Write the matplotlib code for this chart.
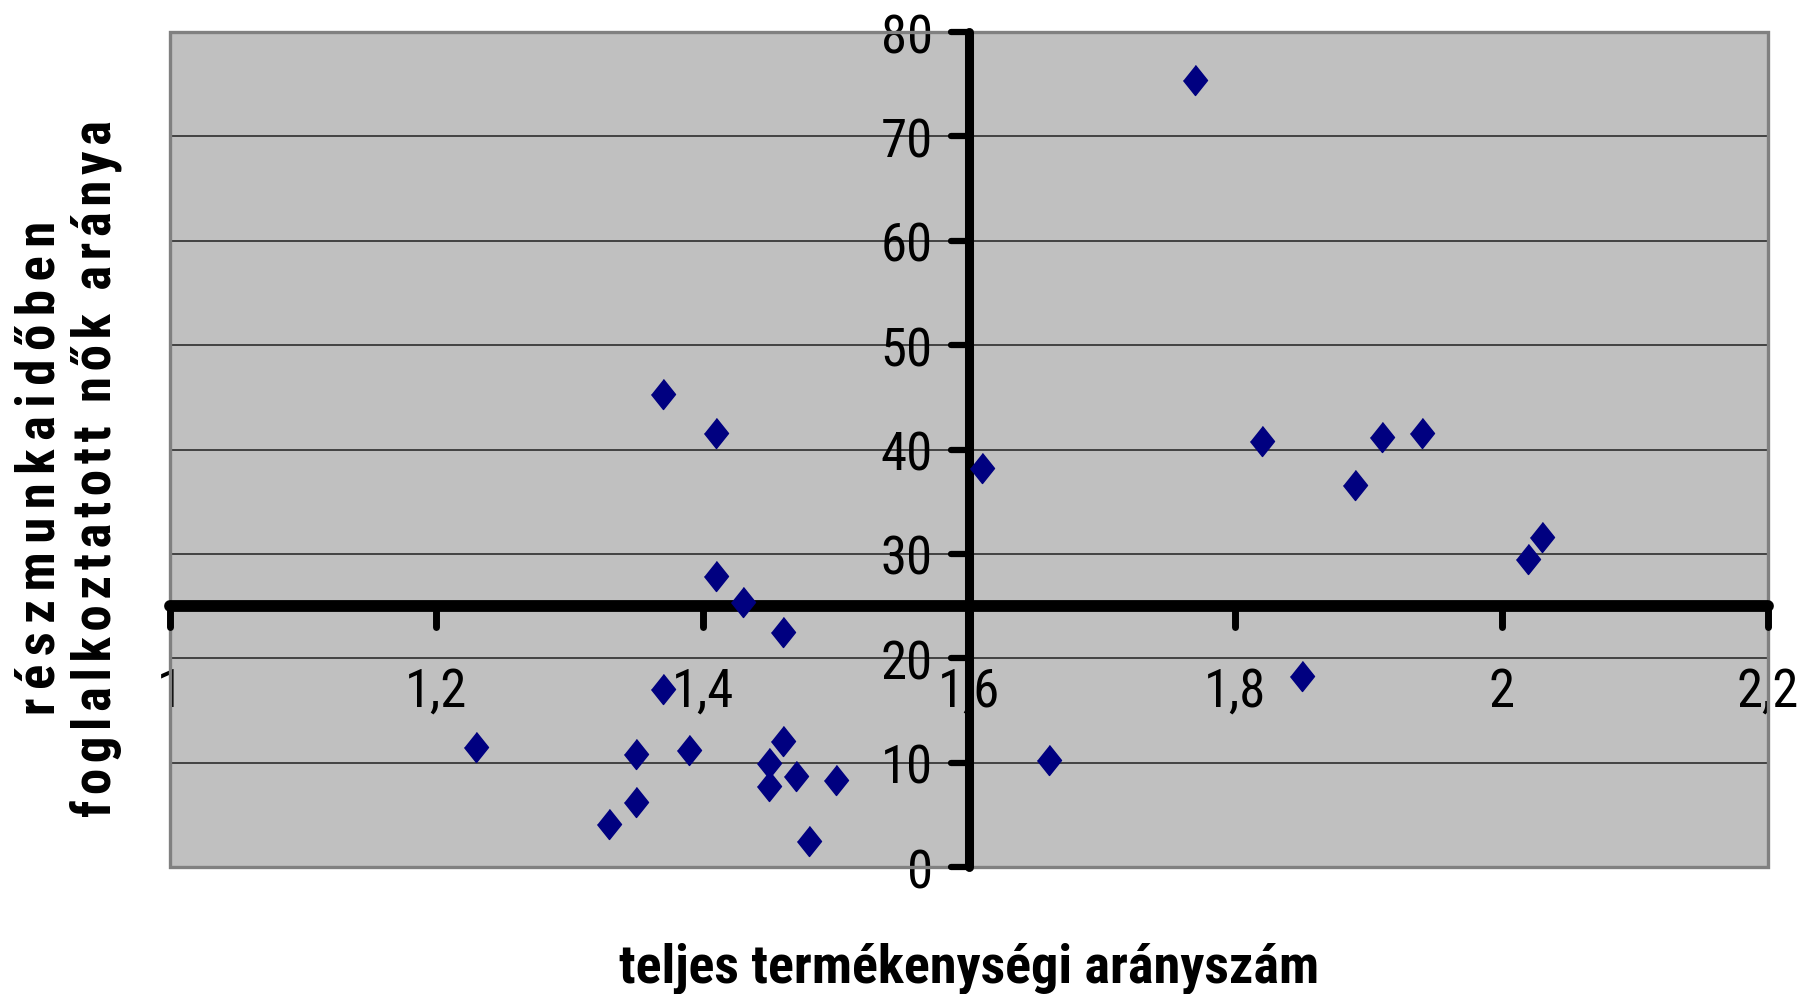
import matplotlib
matplotlib.use('Agg')
import matplotlib.pyplot as plt
from matplotlib import font_manager
from matplotlib.patches import Rectangle

# teljes termékenységi arányszám (x) vs részmunkaidőben foglalkoztatott nők aránya (y)
tfr = [1.77, 1.37, 1.41, 1.61, 1.82, 1.89, 1.91, 1.94, 2.03, 2.02,
       1.41, 1.43, 1.46, 1.37, 1.85, 1.23, 1.35, 1.39, 1.46, 1.45,
       1.47, 1.45, 1.50, 1.35, 1.33, 1.48, 1.66]
part_time = [75.4, 45.3, 41.6, 38.2, 40.8, 36.6, 41.2, 41.6, 31.6, 29.5,
             27.9, 25.35, 22.5, 17.05, 18.3, 11.5, 10.8, 11.2, 12.1, 10.0,
             8.7, 7.8, 8.3, 6.2, 4.1, 2.5, 10.3]

x_ticks = [1.0, 1.2, 1.4, 1.6, 1.8, 2.0, 2.2]
x_tick_labels = ['1', '1,2', '1,4', '1,6', '1,8', '2', '2,2']
y_ticks = [0, 10, 20, 30, 40, 50, 60, 70, 80]
x_cross = 1.6   # the y axis crosses here
y_cross = 25    # the x axis crosses here

x_title = 'teljes termékenységi arányszám'
y_title = ['részmunkaidőben', 'foglalkoztatott nők aránya']

# want something close to Arial Narrow
names = {f.name for f in font_manager.fontManager.ttflist}
narrow = 'Liberation Sans'
for cand in ['Liberation Sans Narrow', 'Arial Narrow', 'Roboto Condensed',
             'Open Sans Condensed', 'DejaVu Sans Condensed']:
    if cand in names:
        narrow = cand
        break
condensed = narrow != 'Liberation Sans'
fs = 38 if condensed else 33


def spaced(s, sep='\u200a'):
    return sep.join(s)


fig = plt.figure(figsize=(18.15, 9.95), dpi=100)
ax = fig.add_axes([0.0937, 0.1276, 0.8804, 0.8392])
ax.set_facecolor('#c0c0c0')
ax.set_xlim(1, 2.2)
ax.set_ylim(0, 80)

# horizontal gridlines
ax.set_axisbelow(True)
ax.yaxis.grid(True, color='#202020', lw=1.1)
ax.xaxis.grid(False)

# axes crossing inside the plot
for side in ['top', 'right']:
    ax.spines[side].set_visible(False)
ax.spines['left'].set_position(('data', x_cross))
ax.spines['bottom'].set_position(('data', y_cross))
ax.spines['left'].set_linewidth(6.5)
ax.spines['bottom'].set_linewidth(8.5)
for side in ['left', 'bottom']:
    ax.spines[side].set_capstyle('round')
    ax.spines[side].set_zorder(2.5)

# gray frame around plot area
ax.add_patch(Rectangle((0, 0), 1, 1, transform=ax.transAxes, fill=False,
                       edgecolor='#808080', lw=2.4, clip_on=False, zorder=2))

# rounded ticks
ax.vlines(x_ticks, y_cross - 2.0, y_cross, colors='black', lw=5, capstyle='round',
          zorder=2.6, clip_on=False)
ax.hlines(y_ticks, x_cross - 0.0135, x_cross, colors='black', lw=4.5, capstyle='round',
          zorder=2.6, clip_on=False)

ax.set_xticks(x_ticks)
ax.set_xticklabels(x_tick_labels)
ax.set_yticks(y_ticks)
ax.tick_params(axis='both', length=0, labelsize=fs)
ax.tick_params(axis='x', pad=43)
ax.tick_params(axis='y', pad=26)
for lab in ax.get_xticklabels() + ax.get_yticklabels():
    lab.set_fontfamily([narrow, 'DejaVu Sans'])

ax.plot(tfr, part_time, linestyle='none',
        marker=[(0, 1), (0.8, 0), (0, -1), (-0.8, 0)], markersize=21.6,
        color='#000080', markeredgecolor='#000080', zorder=3, clip_on=False)

fig.text(0.534, 0.013, x_title, ha='center', va='baseline',
         fontsize=39 if condensed else 32,
         fontweight='bold', family=[narrow, 'DejaVu Sans'])
fig.text(0.0375, 0.5296, spaced(y_title[0], '\u2006') + '\n' + spaced(y_title[1]),
         rotation=90, ha='center', va='center', multialignment='center',
         fontsize=38 if condensed else 31,
         fontweight='bold', family=[narrow, 'DejaVu Sans'], linespacing=1.1)

fig.savefig('out.png', dpi=100)
